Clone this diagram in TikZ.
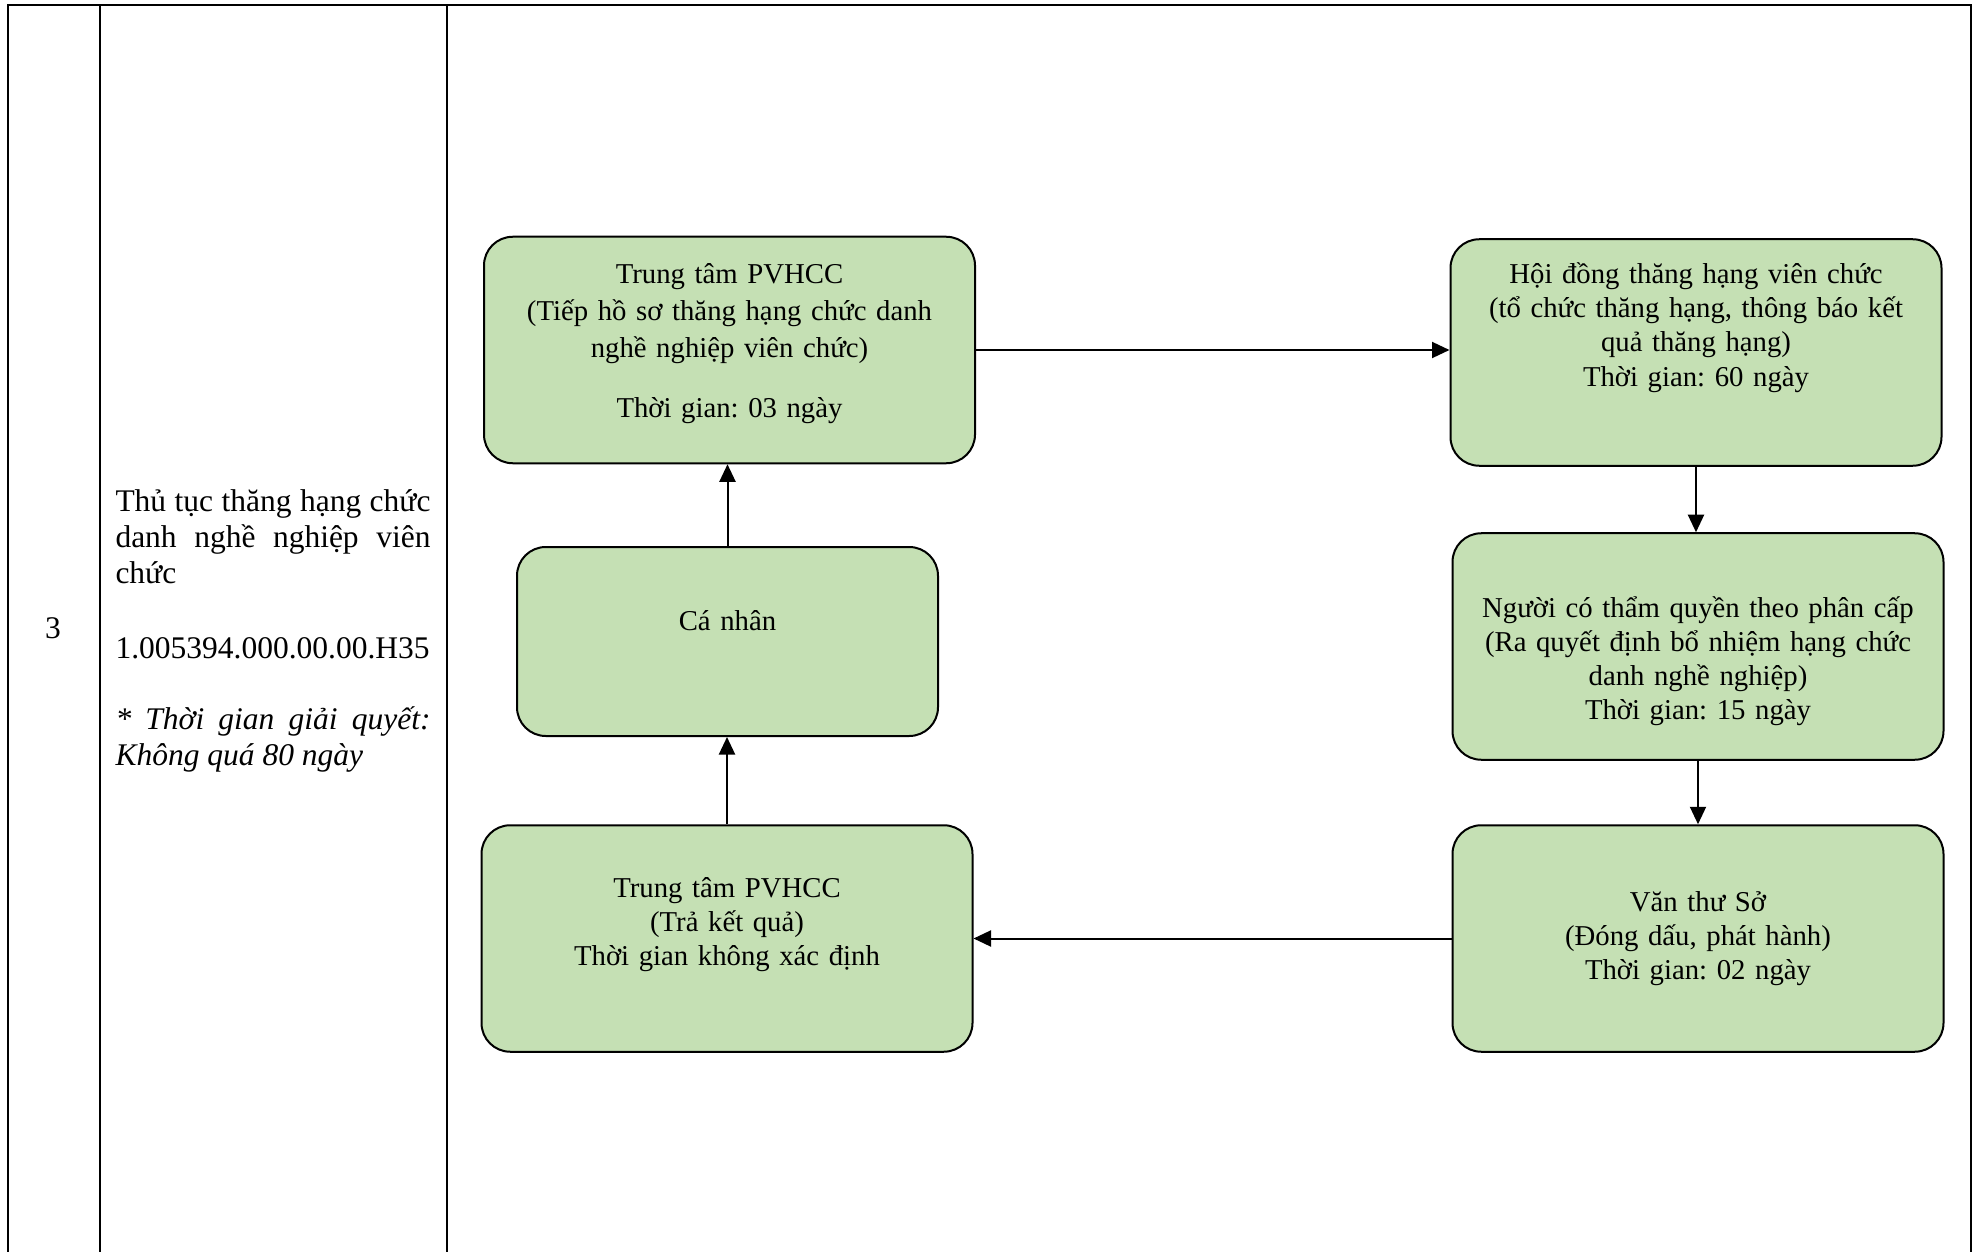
\documentclass[tikz,border=0pt]{standalone}
\usepackage{fontspec}
\setmainfont{Liberation Serif}
\usetikzlibrary{arrows.meta}
\frenchspacing

\definecolor{boxgreen}{HTML}{C5E0B4}

\begin{document}
\begin{tikzpicture}[x=0.4pt, y=-0.4pt,
  grid/.style={line width=1.1pt},
  procbox/.style={draw, line width=0.8pt, fill=boxgreen, rounded corners=11.5pt, minimum width=196.4pt, minimum height=90.6pt, inner sep=0pt},
  boxtext/.style={anchor=base, inner sep=0pt, text width=190pt, align=center, font=\fontsize{11.5}{13.6}\selectfont},
  celltext/.style={anchor=base west, inner sep=0pt, font=\fontsize{12.6}{14.4}\selectfont},
  flow/.style={-{Triangle[length=7pt, width=6.4pt]}, line width=0.8pt}]
\useasboundingbox (0,0) rectangle (1982,1252);

% table frame
\draw[grid] (8,1252) -- (8,5) -- (1971,5) -- (1971,1252);
\draw[grid] (100,5) -- (100,1252);
\draw[grid] (447,5) -- (447,1252);

% table cells
\node[celltext, anchor=base] (stt) at (53,638) {3};
\node[celltext, text width=126pt, align=justify] (ten) at (115,511) {Thủ tục thăng hạng chức\linebreak danh nghề nghiệp viên\linebreak chức};
\node[celltext] (ma) at (115,658) {1.005394.000.00.00.H35};
\node[celltext, text width=126pt, align=justify, font=\fontsize{12.6}{14.7}\selectfont\itshape] (hanxl) at (115,729) {* Thời gian giải quyết:\linebreak Không quá 80 ngày};

% process boxes
\node[procbox] (hoso) at (729.5,350) {};
\node[boxtext, font=\fontsize{11.5}{14.9}\selectfont] (hosotxt) at (729.5,283) {Trung tâm PVHCC\\(Tiếp hồ sơ thăng hạng chức danh\\nghề nghiệp viên chức)\\[8.9pt]Thời gian: 03 ngày};

\node[procbox] (hoidong) at (1696,352.5) {};
\node[boxtext] (hoidongtxt) at (1696,284) {Hội đồng thăng hạng viên chức\\(tổ chức thăng hạng, thông báo kết\\quả thăng hạng)\\Thời gian: 60 ngày};

\node[procbox, minimum width=168.4pt, minimum height=75.6pt] (canhan) at (727.5,641.5) {};
\node[boxtext] (canhantxt) at (727.5,630) {Cá nhân};

\node[procbox] (nguoi) at (1698,646.5) {};
\node[boxtext] (nguoitxt) at (1698,617) {Người có thẩm quyền theo phân cấp\\(Ra quyết định bổ nhiệm hạng chức\\danh nghề nghiệp)\\Thời gian: 15 ngày};

\node[procbox] (trakq) at (727,938.5) {};
\node[boxtext] (trakqtxt) at (727,897) {Trung tâm PVHCC\\(Trả kết quả)\\Thời gian không xác định};

\node[procbox] (vanthu) at (1698,938.5) {};
\node[boxtext] (vanthutxt) at (1698,911) {Văn thư Sở\\(Đóng dấu, phát hành)\\Thời gian: 02 ngày};

% flow
\draw[flow] (trakq.north) -- (trakq.north |- canhan.south);
\draw[flow] (canhan.north) -- (canhan.north |- hoso.south);
\draw[flow] (hoso.east) -- (hoso.east -| hoidong.west);
\draw[flow] (hoidong.south) -- (hoidong.south |- nguoi.north);
\draw[flow] (nguoi.south) -- (nguoi.south |- vanthu.north);
\draw[flow] (vanthu.west) -- (vanthu.west -| trakq.east);
\end{tikzpicture}
\end{document}
